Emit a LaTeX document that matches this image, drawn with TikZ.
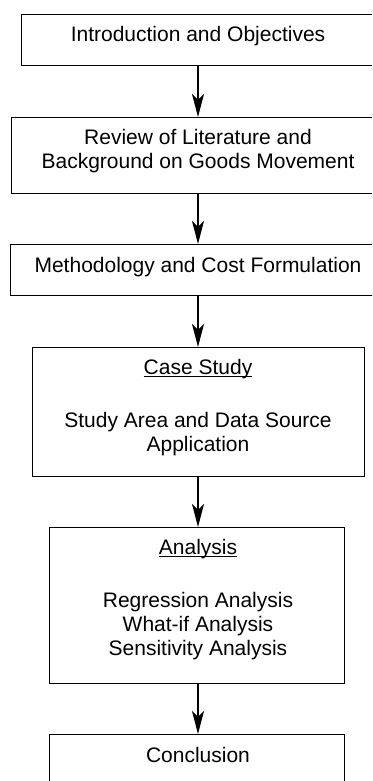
\documentclass[tikz,border=0pt]{standalone}
\usepackage{fontspec}
\setmainfont{Liberation Sans}
\usetikzlibrary{arrows.meta}
\begin{document}
\begin{tikzpicture}[x=1pt,y=-1pt,
  box/.style={draw=black, line width=1.4pt, rectangle, inner sep=0pt, anchor=north west},
  lbl/.style={anchor=base, inner sep=0pt, font=\fontsize{21}{24.5}\selectfont},
  flow/.style={line width=1.4pt, -{Stealth[length=23pt, width=12pt, inset=6pt]}},
  uline/.style={line width=1pt}]
\useasboundingbox (0,0) rectangle (372,781);
\clip (0,0) rectangle (372,781);
\fill[white] (0,0) rectangle (372,781);
% boxes
\node[box, minimum width=354pt, minimum height=51pt] (b1) at (21,14) {};
\node[box, minimum width=374pt, minimum height=76pt] (b2) at (11,117) {};
\node[box, minimum width=376pt, minimum height=51pt] (b3) at (10,244) {};
\node[box, minimum width=332pt, minimum height=129pt] (b4) at (32,347) {};
\node[box, minimum width=295pt, minimum height=156pt] (b5) at (49,527) {};
\node[box, minimum width=295pt, minimum height=80pt] (b6) at (49,734) {};
% texts
\node[lbl] (t1) at (198,42) {Introduction and Objectives};
\node[lbl] (t2a) at (198,144) {Review of Literature and};
\node[lbl] (t2b) at (198,168) {Background on Goods Movement};
\node[lbl] (t3) at (198,272) {Methodology and Cost Formulation};
\node[lbl] (t4h) at (198,374) {Case Study};
\node[lbl] (t4a) at (198,427) {Study Area and Data Source};
\node[lbl] (t4b) at (198,451) {Application};
\node[lbl] (t5h) at (198,554) {Analysis};
\node[lbl] (t5a) at (198,607) {Regression Analysis};
\node[lbl] (t5b) at (198,631) {What-if Analysis};
\node[lbl] (t5c) at (198,655) {Sensitivity Analysis};
\node[lbl] (t6) at (198,762) {Conclusion};
% underlines
\draw[uline] ([yshift=-2.5pt]t4h.base west) -- ([yshift=-2.5pt]t4h.base east);
\draw[uline] ([yshift=-2.5pt]t5h.base west) -- ([yshift=-2.5pt]t5h.base east);
% connectors
\coordinate (a1s) at (198,65);  \coordinate (a1e) at (198,117);
\coordinate (a2s) at (198,193); \coordinate (a2e) at (198,244);
\coordinate (a3s) at (198,295); \coordinate (a3e) at (198,347);
\coordinate (a4s) at (198,476); \coordinate (a4e) at (198,527);
\coordinate (a5s) at (198,683); \coordinate (a5e) at (198,734);
\draw[flow] (a1s) -- (a1e);
\draw[flow] (a2s) -- (a2e);
\draw[flow] (a3s) -- (a3e);
\draw[flow] (a4s) -- (a4e);
\draw[flow] (a5s) -- (a5e);
\end{tikzpicture}
\end{document}
